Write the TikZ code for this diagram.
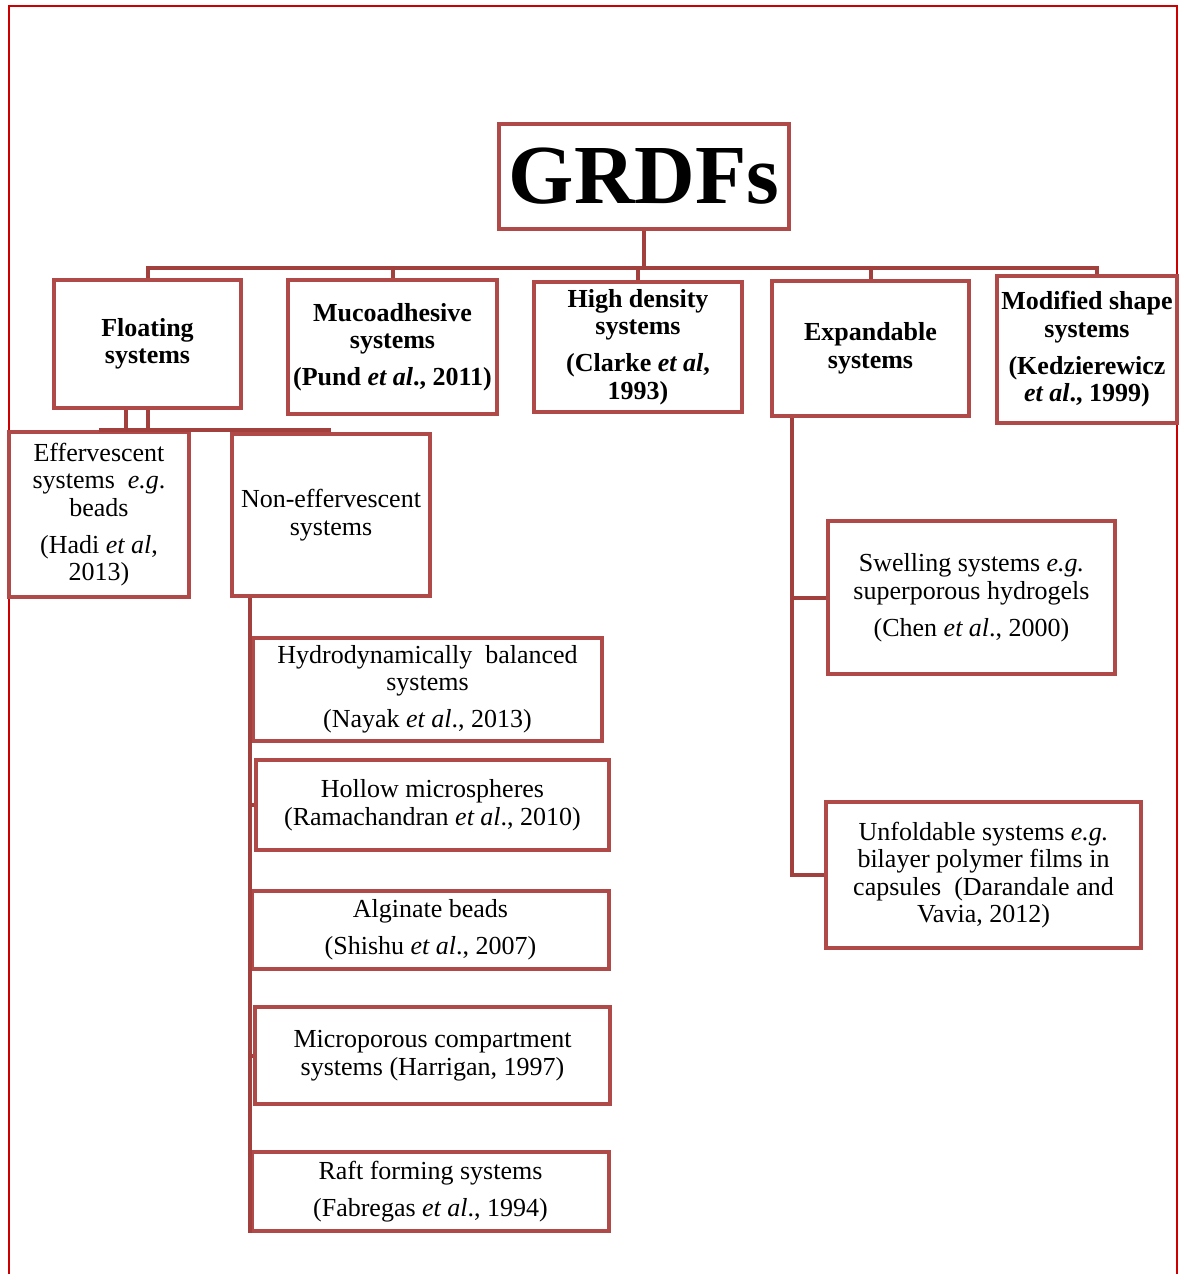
\documentclass[tikz,border=0pt]{standalone}
\usepackage{fontspec}
\setmainfont{Liberation Serif}
\definecolor{boxred}{RGB}{176,74,72}
\definecolor{linkred}{RGB}{162,64,62}
\definecolor{framered}{RGB}{204,0,0}

\tikzset{every picture/.style={line width=4pt}}
\tikzset{
  wh/.style 2 args={minimum width=#1pt, minimum height=#2pt},
  catbox/.style={draw=boxred, line width=4.5pt, inner sep=0pt, align=center,
    font=\fontsize{26}{27.5}\selectfont\bfseries},
  subbox/.style={draw=boxred, line width=4.5pt, inner sep=0pt, align=center,
    font=\fontsize{26}{27.5}\selectfont},
  link/.style={draw=linkred, line width=4pt}
}

\begin{document}
\begin{tikzpicture}[x=1pt,y=-1pt]
\useasboundingbox (0,0) rectangle (1184,1274);

%Outer frame
\draw [framered, line width=2pt] (9,1274) -- (9,6) -- (1177,6) -- (1177,1274);

% Top node
\node [catbox, wh={290}{105}, font=\fontsize{84}{84}\selectfont\bfseries] (grdfs) at (644,176.5) {GRDFs};

% Main categories
\node [catbox, wh={187}{128}] (floating) at (147.5,344) {Floating\\systems};
\node [catbox, wh={209}{134}] (muco) at (392.5,347) {Mucoadhesive\\systems\\[9.5pt](Pund \textit{et al}., 2011)};
\node [catbox, wh={208}{130}] (high) at (638,347) {High density\\systems\\[9.5pt](Clarke \textit{et al},\\1993)};
\node [catbox, wh={197}{135}] (expand) at (870.5,348.5) {Expandable\\systems};
\node [catbox, wh={180}{147}] (modified) at (1087,349.5) {Modified shape\\systems\\[9.5pt](Kedzierewicz\\\textit{et al}., 1999)};

% Floating systems
\node [subbox, wh={180}{165}] (efferv) at (99,514.5) {Effervescent\\systems\ \ \textit{e.g}.\\beads\\[9.5pt](Hadi \textit{et al},\\2013)};
\node [subbox, wh={198}{162}] (noneff) at (331,515) {Non-effervescent\\systems};

% Non-effervescent systems
\node [subbox, wh={349}{103}] (hydro) at (427.5,689.5) {Hydrodynamically\ \ balanced\\systems\\[9.5pt](Nayak \textit{et al}., 2013)};
\node [subbox, wh={353}{90}] (hollow) at (432.5,805) {Hollow microspheres\\(Ramachandran \textit{et al}., 2010)};
\node [subbox, wh={357}{78}] (alginate) at (430.5,930) {Alginate beads\\[9.5pt](Shishu \textit{et al}., 2007)};
\node [subbox, wh={355}{97}] (micro) at (432.5,1055.5) {Microporous compartment\\systems (Harrigan, 1997)};
\node [subbox, wh={357}{79}] (raft) at (430.5,1191.5) {Raft forming systems\\[9.5pt](Fabregas \textit{et al}., 1994)};

% Expandable systems
\node [subbox, wh={287}{153}] (swell) at (971.5,597.5) {Swelling systems \textit{e.g.}\\superporous hydrogels\\[9.5pt](Chen \textit{et al}., 2000)};
\node [subbox, wh={315}{146}] (unfold) at (983.5,875) {Unfoldable systems \textit{e.g.}\\bilayer polymer films in\\capsules\ \ (Darandale and\\Vavia, 2012)};

% Bus under GRDFs
\coordinate (bus) at (644,268);
\draw [link] (grdfs.south) -- (bus);
\draw [link] (floating.north) |- (bus) -| ([xshift=10pt]modified.north);
\draw [link] (muco.north) -- (muco.north |- bus);
\draw [link] (high.north) -- (high.north |- bus);
\draw [link] (expand.north) -- (expand.north |- bus);

% Floating branch
\coordinate (fbar) at (215,430);
\draw [link] (floating.south) -- (floating.south |- fbar);
\draw [link] ([xshift=-22pt]floating.south) -- ([xshift=-22pt]floating.south |- fbar);
\draw [link] (efferv.north |- fbar) -- (noneff.north |- fbar);

% Non-effervescent branch
\coordinate (ntop) at ([xshift=20pt]noneff.south west);
\draw [link] (ntop) -- (ntop |- raft.south);
\foreach \n in {hydro,hollow,alginate,micro,raft}
  \draw [link] (ntop |- \n.west) -- (\n.west);

% Expandable branch
\coordinate (etop) at ([xshift=22pt]expand.south west);
\draw [link] (etop) |- (unfold.west);
\draw [link] (etop |- swell.west) -- (swell.west);

\end{tikzpicture}
\end{document}
